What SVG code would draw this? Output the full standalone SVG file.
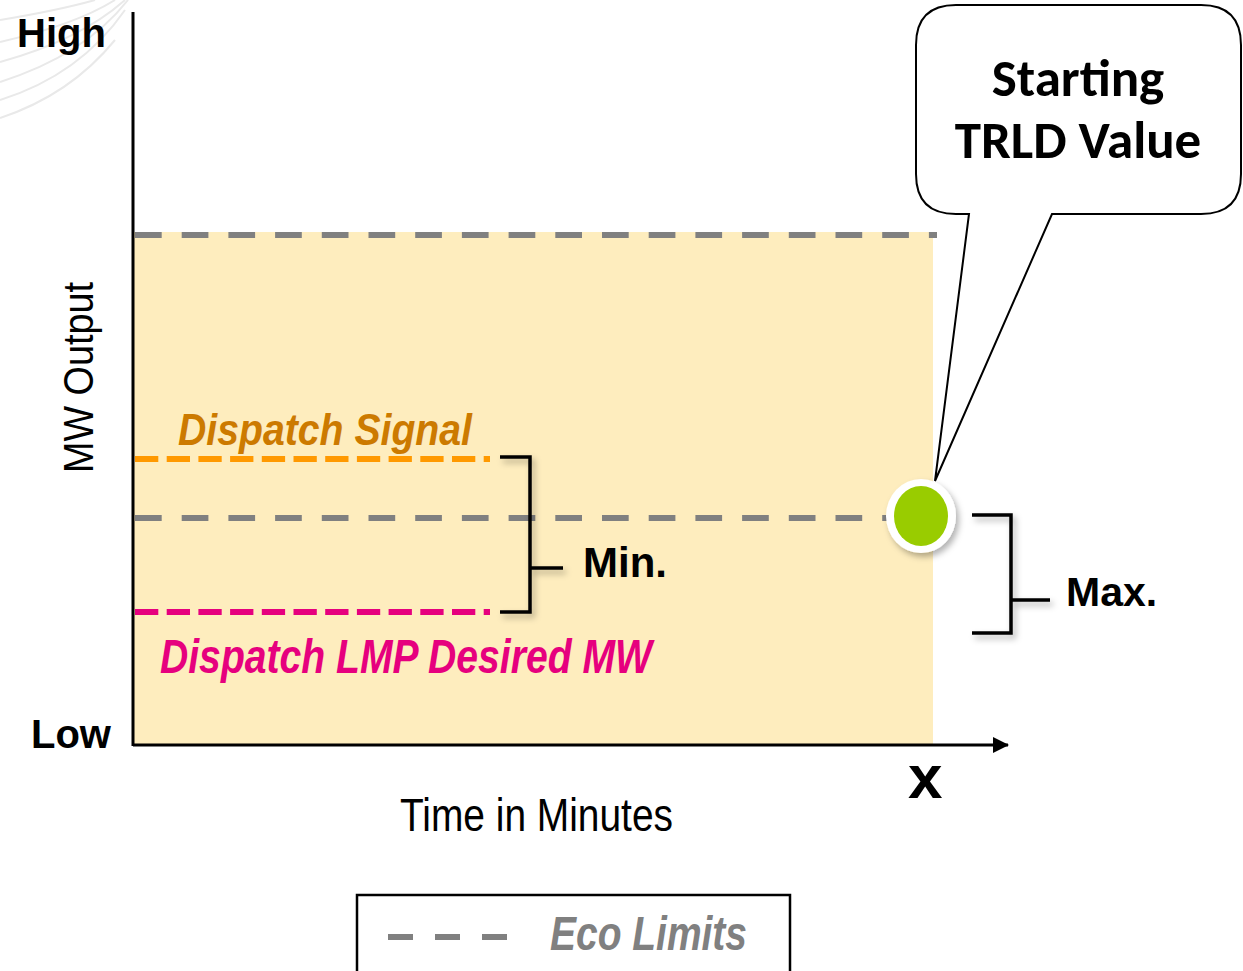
<svg xmlns="http://www.w3.org/2000/svg" width="1243" height="971" viewBox="0 0 1243 971">
  <style>
    .axis { stroke: #000; stroke-width: 3; fill: none; }
    .eco { stroke: #808080; stroke-width: 6; stroke-dasharray: 26.7 20; fill: none; }
    .brk { stroke: #000; stroke-width: 3.5; fill: none; }
    .lbl { font-family: "Liberation Sans", Arial, sans-serif; font-weight: bold; fill: #000; }
    .narrow { font-family: "Liberation Sans Narrow", "Liberation Sans", Arial, sans-serif; }
    .callout { font-family: "Carlito", "Open Sans", "Noto Sans", sans-serif; font-weight: bold; font-size: 53px; fill: #000; }
    .swirl { stroke: #e9e9e9; stroke-width: 2; fill: none; }
  </style>
  <defs>
    <filter id="shadow" x="-30%" y="-30%" width="160%" height="160%">
      <feDropShadow dx="3" dy="4" stdDeviation="3" flood-color="#000" flood-opacity="0.3"/>
    </filter>
    <marker id="arrow" viewBox="0 0 16 16" refX="15" refY="8" markerWidth="16" markerHeight="16" markerUnits="userSpaceOnUse" orient="auto">
      <path d="M0,0 L16,8 L0,16 Z" fill="#000"/>
    </marker>
  </defs>

  <rect width="1243" height="971" fill="#fff"/>

  <!-- faint decorative arcs in the corner -->
  <g id="swirls">
    <path class="swirl" d="M0,20 Q60,10 95,0"/>
    <path class="swirl" d="M0,42 Q75,25 115,0"/>
    <path class="swirl" d="M0,62 Q80,40 125,0"/>
    <path class="swirl" d="M0,82 Q85,55 128,0"/>
    <path class="swirl" d="M0,100 Q80,75 125,10"/>
    <path class="swirl" d="M0,118 Q70,95 115,40"/>
  </g>

  <!-- shaded operating band -->
  <rect id="band" x="134" y="232" width="799" height="513" fill="#FEEDBE"/>

  <g id="connectors">
    <!-- eco limit lines -->
    <line class="eco" x1="135" y1="235" x2="937" y2="235"/>
    <line class="eco" x1="135" y1="518" x2="890" y2="518"/>
    <!-- dispatch lines -->
    <line x1="135" y1="459" x2="490" y2="459" stroke="#FF9900" stroke-width="6" stroke-dasharray="23.3 8.4"/>
    <line x1="135" y1="612" x2="490" y2="612" stroke="#E6007E" stroke-width="6" stroke-dasharray="23.3 8.4"/>
    <!-- axes -->
    <line class="axis" x1="133" y1="12" x2="133" y2="746"/>
    <line class="axis" x1="133" y1="745" x2="1008" y2="745" marker-end="url(#arrow)"/>
    <!-- brackets -->
    <path class="brk" filter="url(#shadow)" d="M500,457 H530 V612 H500 M530,568 H563"/>
    <path class="brk" filter="url(#shadow)" d="M972,515 H1011 V633 H972 M1011,600 H1050"/>
  </g>

  <g id="axis-labels">
    <text class="lbl" x="17" y="47" font-size="40">High</text>
    <text class="lbl" x="31" y="748" font-size="40">Low</text>
    <text class="narrow" x="0" y="0" font-size="43" fill="#000" transform="translate(93,473) rotate(-90)" textLength="191" lengthAdjust="spacingAndGlyphs">MW Output</text>
    <text class="narrow" x="400" y="831" font-size="46" fill="#000" textLength="273" lengthAdjust="spacingAndGlyphs">Time in Minutes</text>
    <text class="lbl" x="908" y="798" font-size="62">x</text>
  </g>

  <g id="dispatch-signal">
    <text class="narrow" x="178" y="445" font-size="45" font-weight="bold" font-style="italic" fill="#CC7A00" textLength="294" lengthAdjust="spacingAndGlyphs">Dispatch Signal</text>
  </g>
  <g id="dispatch-lmp">
    <text class="narrow" x="160" y="673" font-size="48" font-weight="bold" font-style="italic" fill="#E6007E" textLength="492" lengthAdjust="spacingAndGlyphs">Dispatch LMP Desired MW</text>
  </g>

  <g id="min-label">
    <text class="lbl" x="583" y="577" font-size="42">Min.</text>
  </g>
  <g id="max-label">
    <text class="lbl" x="1066" y="606" font-size="41">Max.</text>
  </g>

  <!-- callout bubble -->
  <g id="callout">
    <path d="M956,5 H1201 Q1241,5 1241,45 V174 Q1241,214 1201,214 H1052 L935,481 L969,214 H956 Q916,214 916,174 V45 Q916,5 956,5 Z" fill="#fff" stroke="#000" stroke-width="2"/>
    <text class="callout" x="1078" y="96" text-anchor="middle">Starting</text>
    <text class="callout" x="1078" y="158" text-anchor="middle">TRLD Value</text>
  </g>

  <!-- starting point marker -->
  <g id="trld-point">
    <ellipse cx="921" cy="516" rx="35" ry="37" fill="#fff" filter="url(#shadow)"/>
    <ellipse cx="921" cy="516" rx="27" ry="30" fill="#99CC00"/>
  </g>

  <!-- legend -->
  <g id="legend">
    <rect x="357" y="895" width="433" height="90" fill="#fff" stroke="#000" stroke-width="2.5"/>
    <line x1="388" y1="937" x2="510" y2="937" stroke="#808080" stroke-width="6" stroke-dasharray="25 22"/>
    <text class="narrow" x="550" y="950" font-size="48" font-weight="bold" font-style="italic" fill="#808080" textLength="197" lengthAdjust="spacingAndGlyphs">Eco Limits</text>
  </g>
</svg>
